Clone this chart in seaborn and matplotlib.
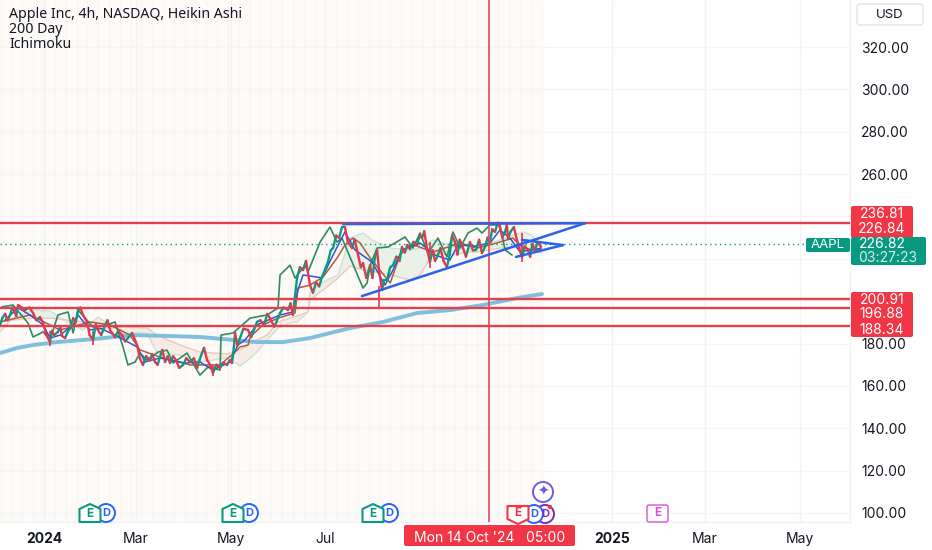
import numpy as np
import pandas as pd
import matplotlib
matplotlib.use("Agg")
import matplotlib.pyplot as plt
from matplotlib.patches import FancyBboxPatch, Polygon, Circle
import seaborn as sns

# Days are counted from 1 Jan 2024: (day, price) pairs
price_days = [-28.5,-27,-25.2,-23.5,-22,-20.5,-19.4,-18,-16.8,-14.5,-12.3,-9.5,-7.1,-5,-2.6,-0.6,1.5,3.9,5,6.5,9,10.5,11.6,13.6,15,16.8,18.8,20.5,22,23.5,25.2,27.8,29.5,31.7,33.5,34.9,37,39.5,41,42.7,45.9,48,50.5,52.5,54.3,57,60.2,62,64,66,68.6,70,71.8,73.5,75,76.5,78.3,80,81.5,83.5,85.4,87.5,89.9,92,94.5,97,99,100.5,102.2,103.5,105.5,107.5,109.3,111.5,113.9,116,118.4,120,121.6,122.8,123.6,125,126.8,129,132,134,137.8,140,142.3,144.5,146.2,149,152.7,155,157.9,159.5,161,163.7,165.5,167.6,169.5,172.1,174,176,178,179.9,181.8,183.7,185.5,187,189,190.9,192.8,194.7,196.5,199.3,201,203.2,205,206.4,208.5,211,212.5,214,215.5,216.7,218.7,220,221.9,224,225.8,228,230,231.6,233.5,235,236.8,239,241.3,243,244.6,246,248,249.7,251.5,253,254.9,256.5,258.5,260.7,262.5,264,265.9,267.5,269,271.1,273,275.6,277.5,279.5,281.5,283.4,285.5,287,288.6,290,291.8,293.5,295,296.5,298.3,299.5,300.2,302,304,306,307.5,309.3,311,313.1,314.5,316,317.7,319.5,321.6]
price_vals = [188.8,192,194,191,193.5,197,195.4,193,198.2,197,195.8,197,194.4,191,192.5,189.7,184,180.7,186,184,185.5,188,183.6,182.6,185,187.3,192,190,195.8,197,193.5,190.2,184,181.7,189,186.4,184,188.8,191,186.4,183,186,184,181,182.6,185,179.3,173,169.9,174,172.2,175,171.3,170,173.6,177,171.3,174,170.8,174,172.2,168.5,169.9,173,171.3,173,168.5,172,175.5,178,172.2,170,166.1,170,168.5,171,169.9,172,170.8,178,185,179,182.6,187,186.4,183,190.2,191,188.8,194,192,188,194.4,197,195.8,199,193.5,210.9,216,214.7,219,207.6,204,209,207,211.4,215,218.5,224,225.1,231,229.8,235,235,228,225.1,229,221.8,216,218,211,217,211,220.4,224,214.7,205.3,210,210,216,217,221,219,225.6,223,226.5,224.6,228,226.5,231,229.8,233,224,218.5,224,219,221.8,225,219,216.1,222,231,227.9,222,229,225.1,221,227.9,224,224.2,229,222.7,226,230,227.9,234,232.7,237,235,230,232.7,236,229.8,233,235,228.9,225,220.9,226,224.2,221,227,224.2,228,225.6]
wick_days = [31.7,216.7,3.9,109.3,249.7,309.3]
wick_low = [179.3,196.8,178.8,164.5,215.5,218.5]
wick_high = [186,207,186,170,228,232]

chikou_days = [-27.2,-20.1,-10.4,-7.1,-0.6,3.9,9,15.5,18.8,22,31.7,40.8,45.9,51.1,54.3,58.9,62.1,66.6,73.8,79.6,83.5,92.5,100.9,106.1,113.9,114.5,122.3,133.3,144.3,151.4,152.7,159.2,162.4,168.9,170.8,178.6,185,189.6,192.8,199.3,206.4,209,211,215.5,222.6,233.6,238.7,243.3,248.4,254.9,260.7,264.6,269.2,274.3,280.2,283.4,288.6,295,298.3,302.8]
chikou_vals = [197.3,198.2,189.7,183.1,185.5,181.7,193.5,194.9,185,195.8,187.8,188.8,190.2,178.4,169.9,171.3,175.5,172.2,176,176.9,170.8,175.5,165.1,168.9,167.5,184,185,192,193.5,196.8,212.4,217,210.9,217,213.8,227.9,235,227.9,229.8,218.5,206.2,208.6,217,225.1,225.6,230.3,225.1,232.2,222.7,229.8,220.9,232.7,225.1,232.2,234.5,232.2,236,236,224.2,221.8]

kijun_days = [-28.5,-9.1,10.4,29.8,42.7,55.6,62.1,75,94.5,113.9,123.6,126.8,132,133.3,141.7,151.4,162.4,164.3,172.1,180.5,189.6,194.7,199.9,204.5,211,224,230.3,236.8,241.3,251.7,269.2,280.2,293.1,303.4,309.9,316.4,321.6]
kijun_vals = [190.2,193.5,186.4,190.2,188.8,184,177,173.6,169.9,169.9,176,178.4,179.3,183.1,188.8,192,194.4,206.2,207.6,211.4,220.4,226.5,229.8,227.5,220.4,208.6,221.8,226.5,226,223.2,227.5,225.1,227.5,229.8,225.1,224.2,224.2]

tenkan_days = [-25.2,-16.8,-9.1,-0.6,3.9,10.4,18.8,22,29.8,36.2,45.9,60.2,65.4,75,91.2,100.9,109.3,120.3,125.5,130,137.8,152.7,161,164.3,167.6,179.9,187,194.7,201.2,212.2,220.6,225.8,231.6,243.3,253,262.6,267.8,278.8,288.6,295,301.5,308,314.5,321.6]
tenkan_vals = [191.2,196.8,193.5,188.8,182.6,184,188.8,193.5,186.4,187.3,184,178.4,171.3,173.2,170.8,171.3,167.5,171.3,179.3,181.7,188.8,193.5,194.9,205.3,212.4,211,221.8,232.7,224.2,218.5,207.6,214.7,224.2,227.5,221.8,219.4,226.5,226,227.5,233.6,229.8,223.2,224.2,225]

cloud_days = [-28.5,-20.1,-7.1,3.9,14.9,25.2,34.9,40.8,51.1,66.6,73.1,88,100.9,118.4,126.8,132,137.8,144.3,151.4,159.2,163.7,170.8,172.1,180.5,190.2,198,206.4,212.2,223.9,236.8,243.3,251.7,264.6,273.7,280.2,295,309.9,315.7,321.6]
span_a = [185.5,192,195.8,195.4,190.2,186.4,192.5,189.7,185,185,175.5,174.6,171.3,173.2,169.4,172.2,176,181.7,187.3,189.7,190.2,194.9,204.3,209,212.4,229.8,232.2,228.9,225.1,224.2,225.1,228.9,226,224.2,226,228.9,232.7,231.2,225.1]
span_b = [190.2,191.1,192,192,191.1,190.2,186.4,187.3,187.8,187.3,184,179.3,176,175.1,177,179.3,181.7,184,190.2,192,193,194.9,200.6,205.3,210.9,216.6,214.7,214.2,212.4,210,212.4,222.7,221.8,223.2,223.2,225.1,225.6,224.2,222.7]

ma_days = [-28.5,-17.5,-7.1,8.4,31.7,57.6,79.6,100.9,122.3,137.8,154.6,172.1,198,219.3,241.3,262.7,284,306,322.2]
ma_vals = [175.5,177.9,179.3,180.7,182.1,184,183.6,183.1,181.7,180.7,180.7,182.6,187.3,190.2,194.4,195.8,198.2,201.5,203.4]

level_prices = [236.81, 200.91, 196.88, 188.34]
last_price = 226.82
crosshair_day = 288.2

trend_lines = [
    ([193.5, 350.0], [236.4, 236.8]),
    ([205.7, 350.0], [202.4, 236.8]),
    ([309.3, 335.8], [228.9, 226.5]),
    ([305.4, 335.8], [220.9, 226.5]),
]

y_ticks = list(range(100, 340, 20))
y_hidden = [200, 220, 240]
x_tick_days = [0, 59.5, 121, 181.8, 367.5, 427.7, 489]
x_tick_labels = ["2024", "Mar", "May", "Jul", "2025", "Mar", "May"]
x_tick_bold = ["2024", "2025"]
week_days = list(range(-28, 323, 7))

RED, GREEN, BLUE = "#e5364b", "#0d9a7f", "#2962ff"
TEXT = "#131722"

sns.set_theme(style="white")
plt.rcParams["font.family"] = ["Inter", "DejaVu Sans"]

fig = plt.figure(figsize=(9.32, 5.5), dpi=100)
ax = fig.add_axes([0, 28 / 550, 850 / 932, 522 / 550])
ax.set_xlim(-28.5, 521.5)
ax.set_ylim(95.75, 342.2)

# session shading and grid
ax.axvspan(-28.5, 322, color="#fdfaf8", zorder=0, lw=0)
ax.vlines(week_days, 95.75, 342.2, color="#f8f5f1", lw=1.0, zorder=0.5)
ax.vlines(x_tick_days, 95.75, 342.2, color="#f3f2f1", lw=1.0, zorder=0.6)
ax.hlines(y_ticks, -28.5, 521.5, color="#f5f5f5", lw=1.0, zorder=0.6)

# cloud
a, b, d = np.array(span_a), np.array(span_b), np.array(cloud_days)
ax.fill_between(d, a, b, where=a >= b, interpolate=True, color="#d5e8d8", alpha=0.45, lw=0, zorder=1)
ax.fill_between(d, a, b, where=a <= b, interpolate=True, color="#f4dcd4", alpha=0.45, lw=0, zorder=1)
sns.lineplot(x=cloud_days, y=span_a, ax=ax, color="#cfe0d0", lw=1.0, sort=False, errorbar=None, zorder=1.2)
sns.lineplot(x=cloud_days, y=span_b, ax=ax, color="#ecc9bc", lw=1.0, sort=False, errorbar=None, zorder=1.2)

# moving average
sns.lineplot(x=ma_days, y=ma_vals, ax=ax, color="#7fbfdc", lw=2.8, sort=False, errorbar=None, zorder=2)

# Ichimoku lines
sns.lineplot(x=kijun_days, y=kijun_vals, ax=ax, color="#b25a3c", lw=1.1, sort=False, errorbar=None, zorder=2.2)
sns.lineplot(x=chikou_days, y=chikou_vals, ax=ax, color="#2e8b63", lw=1.2, sort=False, errorbar=None, zorder=2.3)
sns.lineplot(x=tenkan_days, y=tenkan_vals, ax=ax, color="#2f55d4", lw=1.1, sort=False, errorbar=None, zorder=2.4)

# price, coloured by direction
rows = []
for i in range(len(price_days) - 1):
    up = price_vals[i + 1] >= price_vals[i]
    for j in (i, i + 1):
        rows.append({"day": price_days[j], "price": price_vals[j], "seg": i, "dir": "up" if up else "down"})
price_df = pd.DataFrame(rows)
sns.lineplot(data=price_df, x="day", y="price", hue="dir", units="seg", estimator=None, sort=False,
             palette={"up": GREEN, "down": RED}, lw=1.7, ax=ax, legend=False, zorder=3)
ax.vlines(wick_days, wick_low, wick_high, color=RED, lw=1.2, zorder=2.9)

# levels and drawings
for p in level_prices:
    ax.axhline(p, color="#e2404f", lw=1.7, zorder=4)
ax.axhline(last_price, color=GREEN, lw=1.0, ls=(0, (1, 2.5)), zorder=2.5)
ax.axvline(crosshair_day, color="#e2475a", lw=1.2, zorder=4)
for xs, ys in trend_lines:
    ax.plot(xs, ys, color="#2a62e8", lw=1.8, zorder=5, solid_capstyle="round")

# axes
ax.set_xlabel("")
ax.set_ylabel("")
ax.yaxis.tick_right()
ax.set_yticks(y_ticks)
ax.set_yticklabels(["" if v in y_hidden else f"{v:.2f}" for v in y_ticks], fontsize=10, color=TEXT)
ax.set_xticks(x_tick_days)
ax.set_xticklabels(x_tick_labels, fontsize=10, color=TEXT)
for lab in ax.get_xticklabels():
    if lab.get_text() in x_tick_bold:
        lab.set_fontweight("bold")
ax.tick_params(axis="y", length=0, pad=8)
ax.tick_params(axis="x", length=0, pad=7)
for s, sp in ax.spines.items():
    sp.set_visible(s in ("right", "bottom"))
    sp.set_color("#f0f2f5")
    sp.set_linewidth(1)

# overlay in pixel coordinates
ov = fig.add_axes([0, 0, 1, 1], zorder=10)
ov.set_xlim(0, 932)
ov.set_ylim(550, 0)
ov.axis("off")

def pill(x0, y0, x1, y1, fc, ec="none", r=2):
    ov.add_patch(FancyBboxPatch((x0, y0), x1 - x0, y1 - y0, boxstyle=f"round,pad=0,rounding_size={r}",
                                fc=fc, ec=ec, lw=1))

def label(x, y, s, color="white", size=10, ha="center", **kw):
    ov.text(x, y, s, color=color, fontsize=size, ha=ha, va="center", **kw)

for i, (s, w) in enumerate([("Apple Inc, 4h, NASDAQ, Heikin Ashi", "bold"), ("200 Day", "normal"), ("Ichimoku", "normal")]):
    label(9, 14 + 15.5 * i, s, color=TEXT, size=10.2, ha="left", family="Noto Sans", fontweight=w)

pill(857, 4, 923, 25, "white", "#e0e3eb", 3)
label(890, 15, "USD", color=TEXT, size=9.5)

pill(851, 206, 913, 238, "#f23645")
label(882, 214, "236.81")
label(882, 229, "226.84")
pill(851, 237, 926, 265, "#089981")
label(882, 244, "226.82")
label(888, 257.5, "03:27:23", color="#d5efe8")
pill(806, 238, 850, 252, "#089981")
label(828, 245, "AAPL", size=9.5)
pill(851, 292, 913, 337, "#f23645")
label(882, 299.5, "200.91")
label(882, 314.5, "196.88")
label(882, 330, "188.34")

pill(404, 525, 575, 546, "#f23645")
label(489.5, 537.5, "Mon 14 Oct '24   05:00")

def house(cx, cy, color, down=False):
    w = 10.5
    if down:
        pts = [(cx - w, cy - 8), (cx + w, cy - 8), (cx + w, cy + 5), (cx, cy + 10), (cx - w, cy + 5)]
    else:
        pts = [(cx - w, cy + 9), (cx + w, cy + 9), (cx + w, cy - 4), (cx, cy - 9), (cx - w, cy - 4)]
    ov.add_patch(Polygon(pts, closed=True, fc="white", ec=color, lw=1.5, joinstyle="round", zorder=3))
    label(cx, cy + (-1 if down else 1), "E", color=color, size=8.5, fontweight="bold", zorder=4)

def dmark(cx, cy, color):
    ov.add_patch(Circle((cx, cy), 9, fc="white", ec=color, lw=1.4, zorder=2))
    label(cx, cy, "D", color=color, size=8, fontweight="bold", zorder=2.5)

for hx, dx in [(90, 106), (233, 249), (373, 389)]:
    dmark(dx, 513, "#2962ff")
    house(hx, 513, "#089981")

dmark(545, 514, "#7b2cbf")
ov.add_patch(Circle((550, 507), 2.2, fc="#f23645", ec="none", zorder=3))
dmark(534, 514, "#2962ff")
house(518, 514, "#f23645", down=True)

ov.add_patch(Circle((543, 492), 10, fc="white", ec="#6c5ce7", lw=1.4, zorder=2))
label(543, 492, "\u2726", color="#6c5ce7", size=10, family="DejaVu Sans", zorder=3)

pill(647, 505, 668, 522, "white", "#d84fe0", 2)
label(657.5, 513.5, "E", color="#d84fe0", size=8.5, fontweight="bold")

fig.savefig("out.png", dpi=100)
